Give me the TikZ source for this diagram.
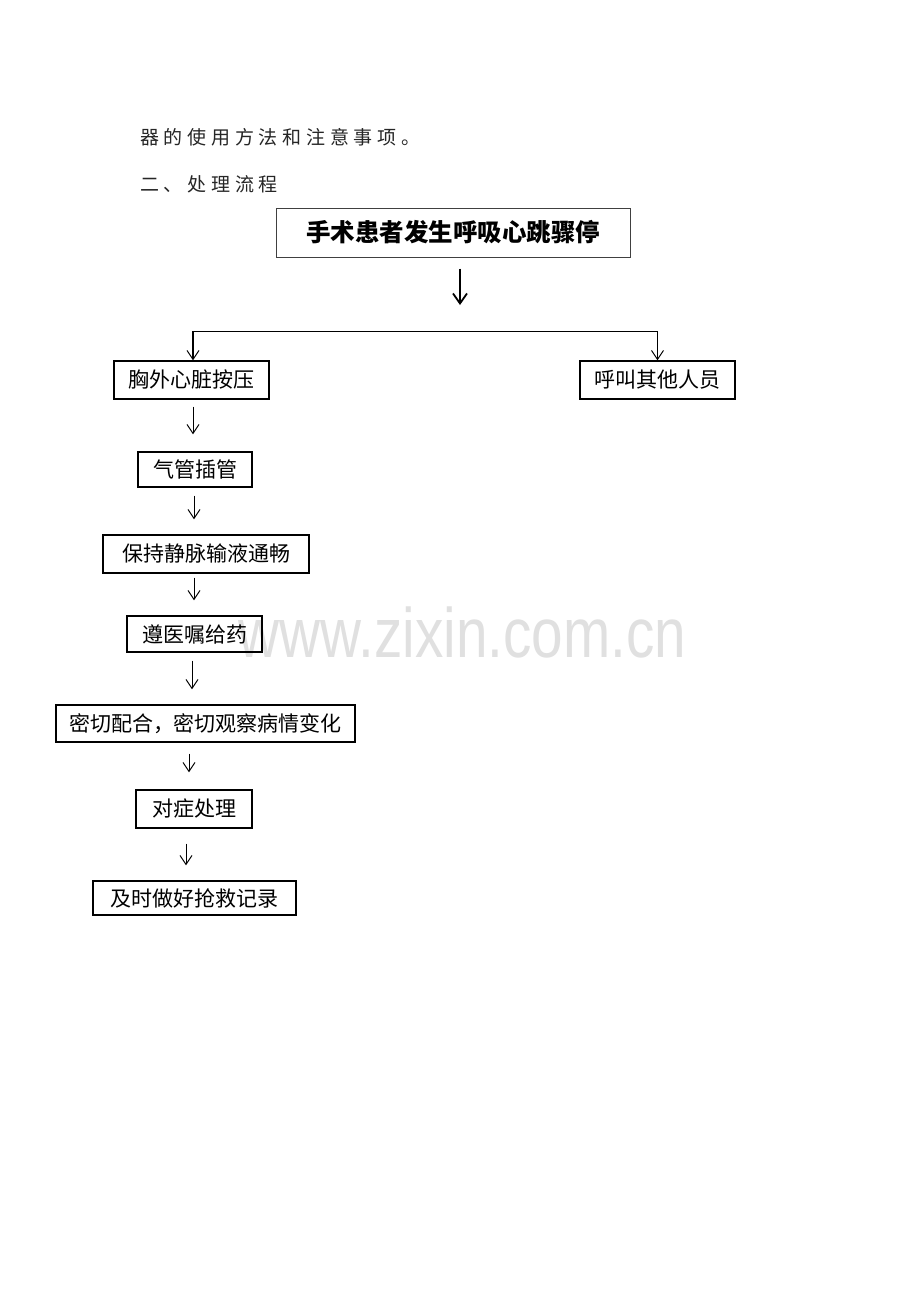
\documentclass[tikz,border=0pt]{standalone}
\usepackage{fontspec}
\newfontfamily\cjk{Noto Sans CJK SC}
\newfontfamily\cjksp[LetterSpace=25]{Noto Sans CJK SC}
\setmainfont{Liberation Sans}
\usetikzlibrary{arrows.meta}
\tikzset{
  box/.style={draw=black, line width=1.3pt, inner sep=0pt, font=\cjk\fontsize{21}{24}\selectfont},
  titlebox/.style={draw=black!75, line width=1pt, inner sep=0pt, font=\cjk\bfseries\fontsize{24.5}{28}\selectfont},
  arr/.style={line width=1pt, -{Straight Barb[length=9pt,width=12pt,line width=1pt]}},
  bigarr/.style={line width=1.8pt, -{Straight Barb[length=10pt,width=14pt,line width=1.8pt]}},
  branch/.style={line width=1.2pt, {Straight Barb[length=9pt,width=12pt,line width=1pt]}-{Straight Barb[length=9pt,width=12pt,line width=1pt]}},
  para/.style={anchor=west, inner sep=0pt, text=black!85, font=\cjksp\fontsize{19}{22}\selectfont},
  wm/.style={text=black!12, font=\fontsize{70}{80}\selectfont, xscale=0.81, inner sep=0pt}
}
\begin{document}
\begin{tikzpicture}[x=1pt,y=-1pt]
\useasboundingbox[fill=white] (0,0) rectangle (920,1302);
% watermark
\node[wm] (wmark) at (462.5,632) {www.zixin.com.cn};
% paragraph text
\node[para] (p1) at (140,137) {器的使用方法和注意事项。};
\node[para] (p2) at (140,184) {二、处理流程};
% boxes
\node[titlebox, minimum width=354pt, minimum height=49pt] (title) at (453,232.5) {手术患者发生呼吸心跳骤停};
\node[box, minimum width=155pt, minimum height=38pt] (chest) at (191.5,380) {胸外心脏按压};
\node[box, minimum width=155pt, minimum height=38pt] (call) at (657.5,380) {呼叫其他人员};
\node[box, minimum width=114pt, minimum height=35pt] (trach) at (195,469.5) {气管插管};
\node[box, minimum width=206pt, minimum height=38pt] (iv) at (206,554) {保持静脉输液通畅};
\node[box, minimum width=135pt, minimum height=36pt] (drug) at (194.5,634) {遵医嘱给药};
\node[box, minimum width=299pt, minimum height=37pt] (coop) at (205.5,723.5) {密切配合，密切观察病情变化};
\node[box, minimum width=116pt, minimum height=38pt] (symp) at (194,809) {对症处理};
\node[box, minimum width=203pt, minimum height=34pt] (rec) at (194.5,898) {及时做好抢救记录};
% connectors
\coordinate (toparr) at (460,305);
\draw[bigarr, shorten <=11pt] (title.south -| toparr) -- (toparr);
\draw[branch] ([xshift=1.5pt]chest.north) -- ++(0,-29) -| (call.north);
\draw[arr, shorten <=7pt, shorten >=17pt] ([xshift=1.5pt]chest.south) -- ([xshift=-2pt]trach.north);
\draw[arr, shorten <=8pt, shorten >=15pt] ([xshift=-1pt]trach.south) -- ([xshift=-12pt]iv.north);
\draw[arr, shorten <=4pt, shorten >=15pt] ([xshift=-12pt]iv.south) -- ([xshift=-0.5pt]drug.north);
\draw[arr, shorten <=8pt, shorten >=15pt] ([xshift=-2.5pt]drug.south) -- ([xshift=-13.5pt]coop.north);
\draw[arr, shorten <=11pt, shorten >=17pt] ([xshift=-16.5pt]coop.south) -- ([xshift=-5pt]symp.north);
\draw[arr, shorten <=15pt, shorten >=15pt] ([xshift=-8pt]symp.south) -- ([xshift=-8.5pt]rec.north);
\end{tikzpicture}
\end{document}
